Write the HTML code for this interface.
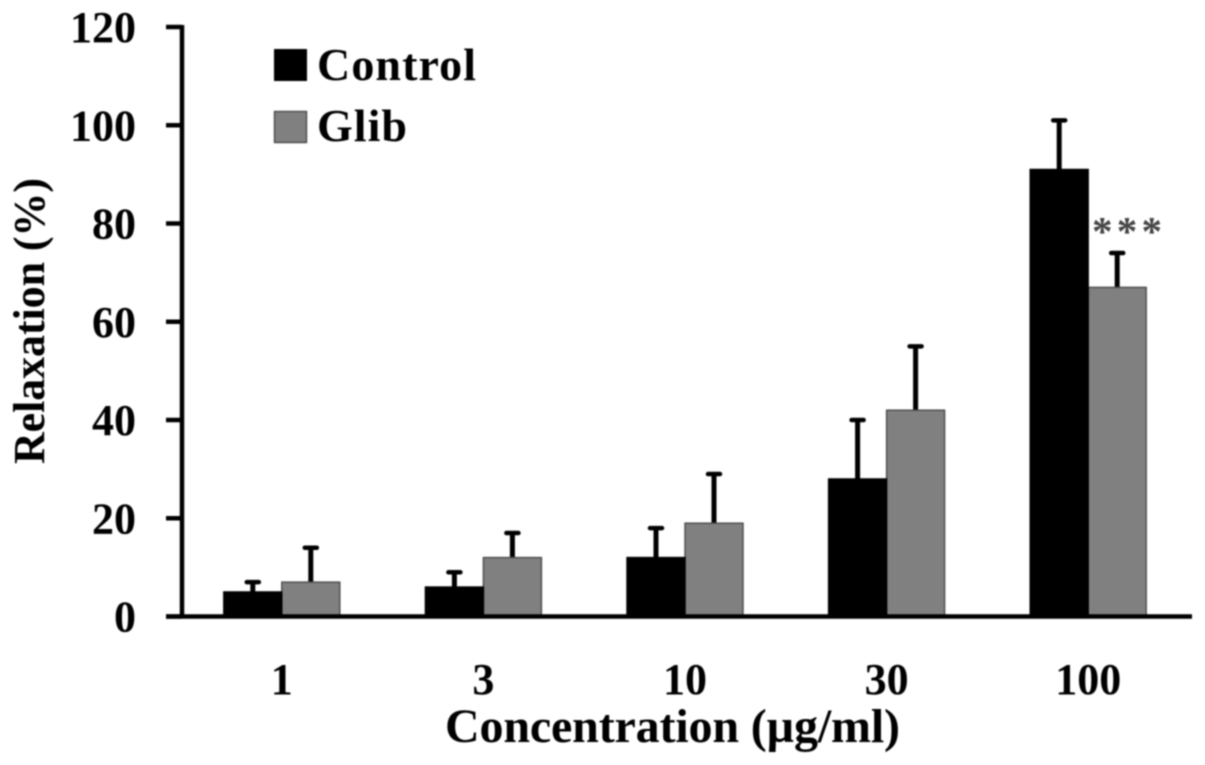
<!DOCTYPE html>
<html lang="en">
<head>
<meta charset="utf-8">
<title>Relaxation vs Concentration</title>
<style>
html,body{margin:0;padding:0;background:#fff;width:1205px;height:765px;overflow:hidden}
svg{display:block;filter:blur(0.7px)}
text{font-family:"Liberation Serif",serif;font-weight:bold;fill:#000}
</style>
</head>
<body>
<svg id="chart" xmlns="http://www.w3.org/2000/svg" width="1205" height="765" viewBox="0 0 1205 765"></svg>
<script>
const categories = ['1', '3', '10', '30', '100'];
const controlValues = [5, 6, 12, 28, 91];
const controlErrors = [2, 3, 6, 12, 10];
const glibValues = [7, 12, 19, 42, 67];
const glibErrors = [7, 5, 10, 13, 7];
const yTicks = [0, 20, 40, 60, 80, 100, 120];

const svg = document.getElementById('chart');
const NS = 'http://www.w3.org/2000/svg';
const axisLeft = 182, axisRight = 1190, axisBottom = 616.5, axisTop = 27;
const yMax = 120;
const barWidth = 58;
function yScale(v) { return axisBottom - (v / yMax) * (axisBottom - axisTop); }
function xCenter(i) { return axisLeft - 1 + (axisRight - axisLeft) * (i + 0.5) / categories.length; }
function make(tag, attrs, text) {
  const el = document.createElementNS(NS, tag);
  for (const k in attrs) el.setAttribute(k, attrs[k]);
  if (text !== undefined) el.textContent = text;
  svg.appendChild(el);
  return el;
}

function drawBar(i, value, err, side, fill, stroke, series) {
  const cx = xCenter(i);
  const x = side === 0 ? cx - barWidth : cx;
  const mid = x + barWidth / 2;
  const top = yScale(value + err);
  const stem = make('line', { x1: mid, x2: mid, y1: yScale(value) + 3, y2: top, stroke: '#000', 'stroke-width': 5 });
  
  
  const cap = make('line', { x1: mid - 6, x2: mid + 6, y1: top, y2: top, stroke: '#000', 'stroke-width': 4.5, 'stroke-linecap': 'round' });
  
  
  const bar = make('rect', { x: x, y: yScale(value), width: barWidth, height: axisBottom - yScale(value), fill: fill, stroke: stroke, 'stroke-width': 1.4 });
  
  
}

categories.forEach(function (c, i) {
  drawBar(i, glibValues[i], glibErrors[i], 1, '#808080', '#4a4a4a', 'glib');
  drawBar(i, controlValues[i], controlErrors[i], 0, '#000', '#000', 'control');
  const label = make('text', { x: xCenter(i), y: 694, 'font-size': 44, 'text-anchor': 'middle' }, c);
  
  
});

yTicks.forEach(function (t) {
  const y = yScale(t);
  const tick = make('line', { x1: 166, x2: axisLeft, y1: y, y2: y, stroke: '#000', 'stroke-width': 4.5 });
  
  
  const label = make('text', { x: 136, y: y + 15, 'font-size': 44, 'text-anchor': 'end' }, String(t));
  
  
});

const yAxis = make('line', { x1: axisLeft, x2: axisLeft, y1: axisTop - 2, y2: axisBottom + 2, stroke: '#000', 'stroke-width': 4.5 });


const xAxis = make('line', { x1: 166, x2: 1192, y1: axisBottom, y2: axisBottom, stroke: '#000', 'stroke-width': 4.5 });



const xTitle = make('text', { x: 445, y: 742, 'font-size': 48, textLength: 455, lengthAdjust: 'spacing' }, 'Concentration (\u00b5g/ml)');


const yTitle = make('text', { x: 0, y: 0, 'font-size': 44, transform: 'translate(44 464) rotate(-90)', textLength: 286, lengthAdjust: 'spacing' }, 'Relaxation (%)');



const swatchControl = make('rect', { x: 274, y: 49, width: 33, height: 32, fill: '#000' });


const legendControl = make('text', { x: 317, y: 80, 'font-size': 46, textLength: 159, lengthAdjust: 'spacing' }, 'Control');


const swatchGlib = make('rect', { x: 274.5, y: 111.5, width: 32, height: 31, fill: '#808080', stroke: '#4a4a4a', 'stroke-width': 1.4 });


const legendGlib = make('text', { x: 317, y: 141, 'font-size': 46, textLength: 90, lengthAdjust: 'spacing' }, 'Glib');



const stars = make('text', { x: 1092, y: 245, 'font-size': 41, textLength: 70, lengthAdjust: 'spacing', style: 'font-weight:bold;fill:#444' }, '***');


</script>
</body>
</html>
